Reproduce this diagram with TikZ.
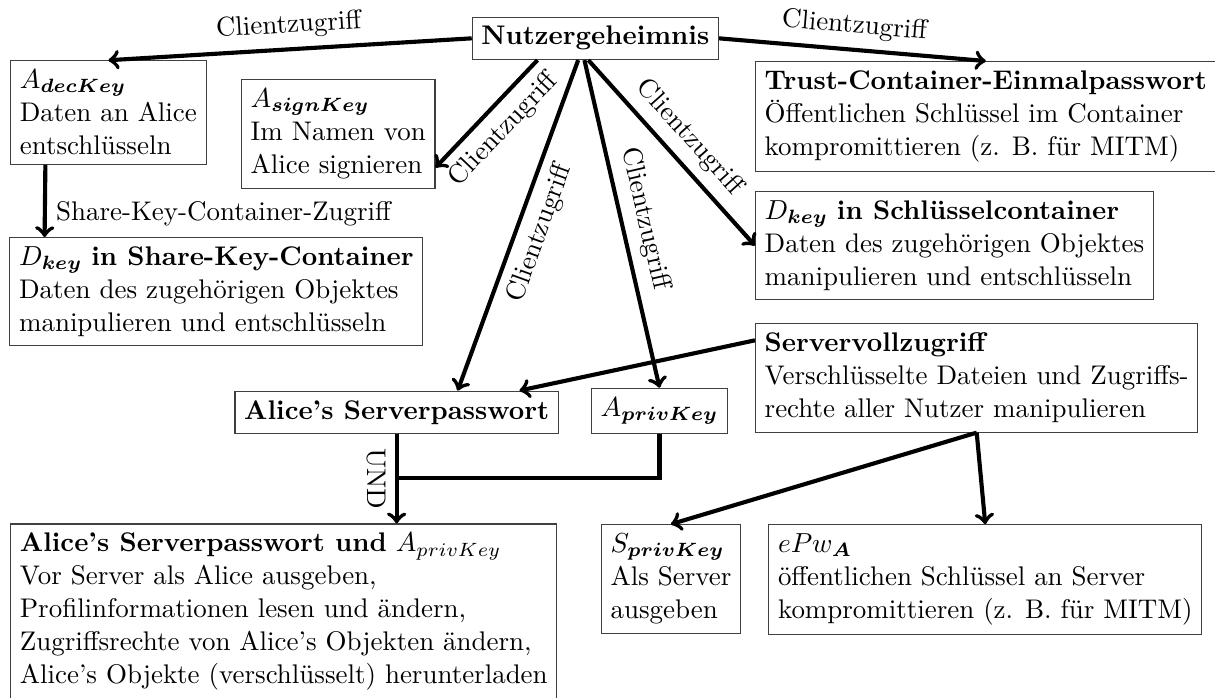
\documentclass[tikz,border=0pt]{standalone}
\usepackage{fontspec}
\usepackage{amsmath}
\usepackage{tikz}
\newcommand{\bsub}[1]{\boldsymbol{#1}}

\begin{document}
\begin{tikzpicture}[font=\fontsize{9.8pt}{12pt}\selectfont,
  box/.style={draw=black!75,thin,align=left,anchor=north west},
  arr/.style={->,line width=1.5pt},
  lbl/.style={sloped,midway}]
  \useasboundingbox (0,0) rectangle (15.53,-8.92);
  \node[box,anchor=center] (nutzer) at (7.61,-0.49) {\textbf{Nutzergeheimnis}};
  \node[box] (dec) at (0.13,-0.77)
    {$A_{\bsub{decKey}}$\\ Daten an Alice\\ entschlüsseln};
  \node[box] (sign) at (3.08,-1.01)
    {$A_{\bsub{signKey}}$\\ Im Namen von\\ Alice signieren};
  \node[box] (trust) at (9.65,-0.78)
    {\textbf{Trust-Container-Einmalpasswort}\\
     Öffentlichen Schlüssel im Container\\
     kompromittieren (z. B. für MITM)};
  \node[box] (dkeys) at (9.65,-2.44)
    {$D_{\bsub{key}}$ \textbf{in Schlüsselcontainer}\\
     Daten des zugehörigen Objektes\\
     manipulieren und entschlüsseln};
  \node[box] (share) at (0.12,-3.03)
    {$D_{\bsub{key}}$ \textbf{in Share-Key-Container}\\
     Daten des zugehörigen Objektes\\
     manipulieren und entschlüsseln};
  \node[box] (voll) at (9.65,-4.13)
    {\textbf{Servervollzugriff}\\
     Verschlüsselte Dateien und Zugriffs-\\
     rechte aller Nutzer manipulieren};
  \node[box,anchor=center] (alicepw) at (5.07,-5.27) {\textbf{Alice's Serverpasswort}};
  \node[box,anchor=center] (apriv) at (8.43,-5.25) {$A_{\bsub{privKey}}$};
  \node[box] (both) at (0.13,-6.69)
    {\textbf{Alice's Serverpasswort und} $A_{privKey}$\\
     Vor Server als Alice ausgeben,\\
     Profilinformationen lesen und ändern,\\
     Zugriffsrechte von Alice's Objekten ändern,\\
     Alice's Objekte (verschlüsselt) herunterladen};
  \node[box] (spriv) at (7.68,-6.70)
    {$S_{\bsub{privKey}}$\\ Als Server\\ ausgeben};
  \node[box] (epw) at (9.82,-6.70)
    {$ePw_{\bsub{A}}$\\
     öffentlichen Schlüssel an Server\\
     kompromittieren (z. B. für MITM)};

  % Clientzugriff
  \draw[arr] (nutzer.west) -- (dec.north) node[lbl,above]{Clientzugriff};
  \draw[arr] (nutzer.east) -- (trust.north) node[lbl,above]{Clientzugriff};
  \draw[arr] ([xshift=-0.74cm]nutzer.south) -- ([yshift=-0.43cm]sign.east)
    node[lbl,below]{Clientzugriff};
  \draw[arr] ([xshift=-0.22cm]nutzer.south) -- ([xshift=0.78cm]alicepw.north)
    node[lbl,below]{Clientzugriff};
  \draw[arr] ([xshift=-0.14cm]nutzer.south) -- (apriv.north)
    node[lbl,above]{Clientzugriff};
  \draw[arr] ([xshift=-0.09cm]nutzer.south) -- (dkeys.west)
    node[lbl,above]{Clientzugriff};
  \draw[arr] ([xshift=0.45cm]dec.south west) -- ([xshift=0.45cm]share.north west)
    node[pos=0.68,right]{Share-Key-Container-Zugriff};

  % Server
  \draw[arr] ([yshift=-0.22cm]voll.north west) -- ([xshift=1.57cm]alicepw.north);
  \draw[arr] (voll.south) -- (spriv.north);
  \draw[arr] (voll.south) -- (epw.north);

  % UND
  \coordinate (join) at ([yshift=-0.56cm]alicepw.south);
  \draw[arr] (alicepw.south) -- (alicepw.south |- both.north)
    node[lbl,below]{UND};
  \draw[line width=1.5pt] (apriv.south) |- (join);
\end{tikzpicture}
\end{document}
